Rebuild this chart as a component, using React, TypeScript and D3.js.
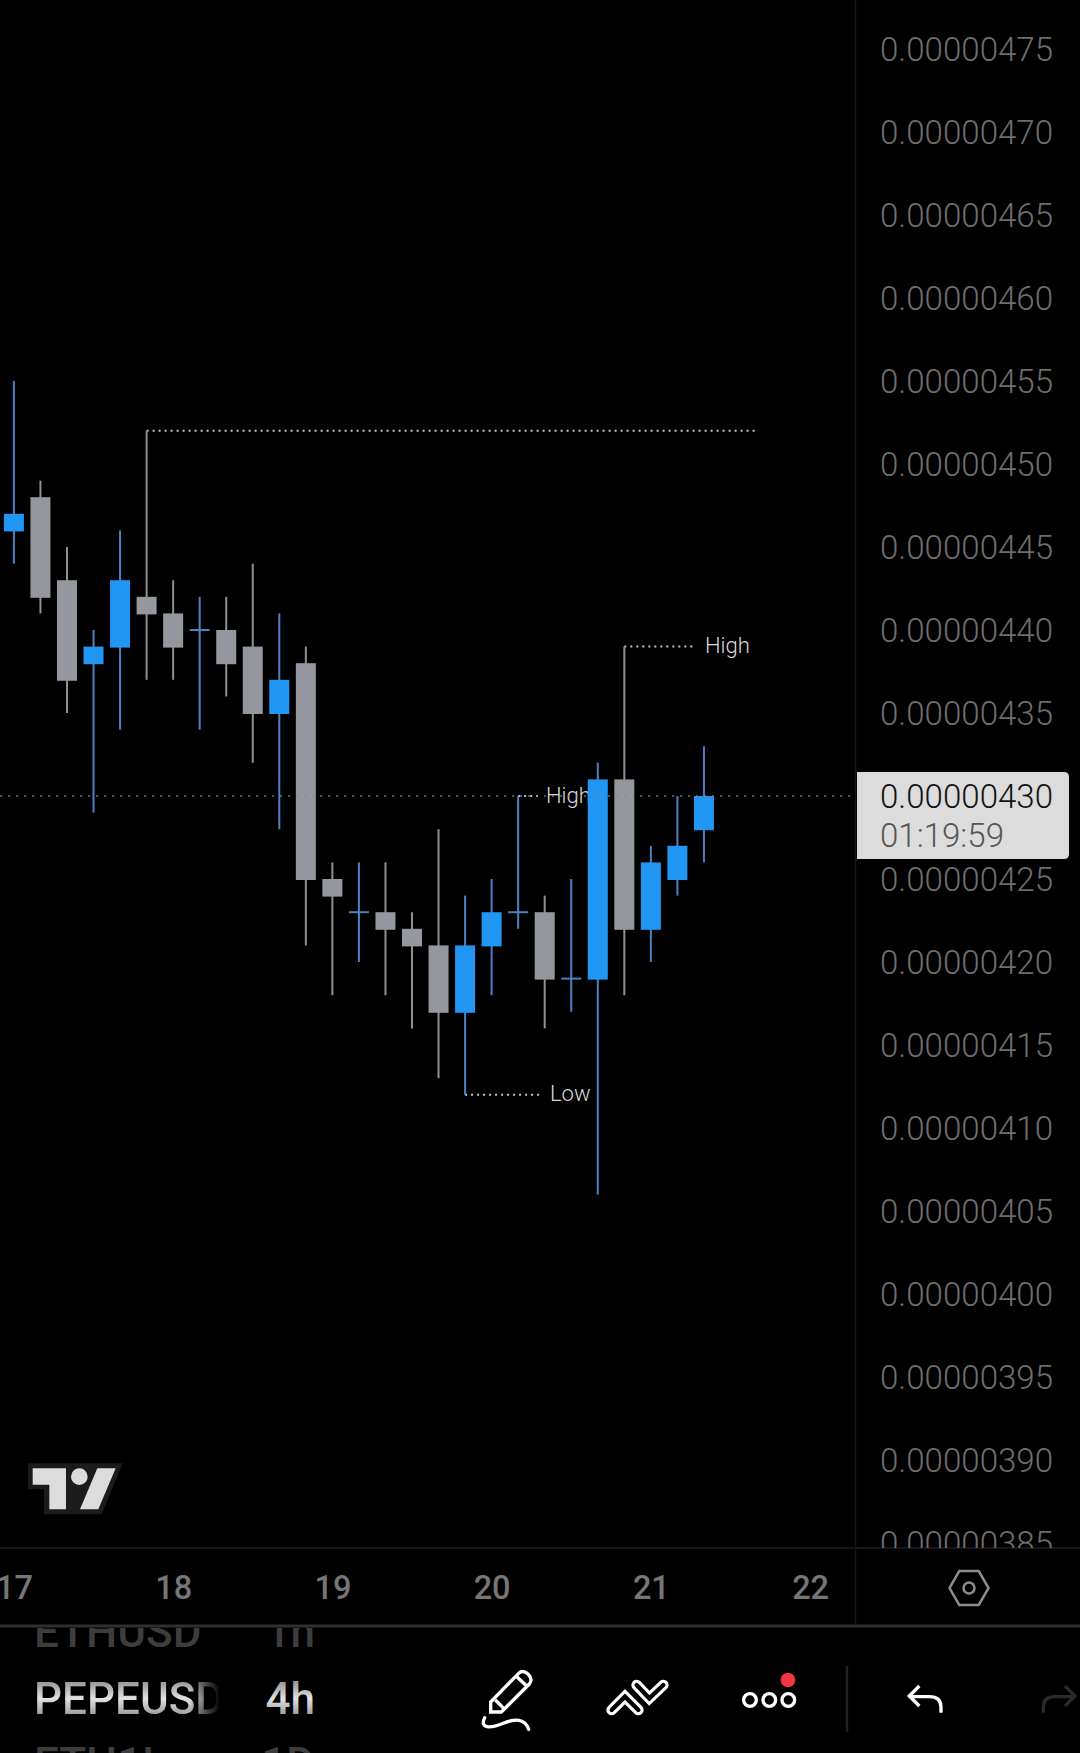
import { useRef, useEffect } from 'react';
import * as d3 from 'd3';

// prices are in units of 0.00000001
const opens = [446, 448, 443, 438, 439, 442, 441, 440, 440, 439, 435, 438, 425, 423, 423, 422, 421, 417, 421, 423, 423, 419, 419, 431, 422, 425, 428];
const highs = [455, 449, 445, 440, 446, 452, 443, 442, 442, 444, 441, 439, 426, 426, 426, 423, 428, 424, 425, 430, 424, 425, 432, 439, 427, 430, 433];
const lows = [444, 441, 435, 429, 434, 437, 437, 434, 436, 432, 428, 421, 418, 420, 418, 416, 413, 412, 418, 422, 416, 417, 406, 418, 420, 424, 426];
const closes = [447, 442, 437, 439, 443, 441, 439, 440, 438, 435, 437, 425, 424, 423, 422, 421, 417, 421, 423, 423, 419, 419, 431, 422, 426, 427, 430];
const upCandle = [true, false, false, true, true, false, false, true, false, false, true, false, false, true, false, false, false, true, true, true, false, true, true, false, true, true, true];

const priceTicks = [475, 470, 465, 460, 455, 450, 445, 440, 435, 425, 420, 415, 410, 405, 400, 395, 390, 385];
const dayTicks = [0, 6, 12, 18, 24, 30];
const dayLabels = ['17', '18', '19', '20', '21', '22'];

const lastPrice = 430;
const countdown = '01:19:59';

const pivotLabels = [
  { index: 19, price: 430, text: 'High', lineEnd: 538, textX: 546 },
  { index: 23, price: 439, text: 'High', lineEnd: 694, textX: 705 },
  { index: 17, price: 412, text: 'Low', lineEnd: 543, textX: 550 },
];
const pivotLong = { index: 5, price: 452, lineEnd: 755 };

const UP = '#2196f3';
const DOWN = '#95979f';
const UP_WICK = '#4d80c4';
const DOWN_WICK = '#8e9096';
const FONT = 'Roboto, sans-serif';

export default function App() {
  const svgRef = useRef<SVGSVGElement>(null);

  useEffect(() => {
    if (!svgRef.current) return;
    const svg = d3.select(svgRef.current);
    svg.selectAll('*').remove();

    const width = 1080;
    const height = 1753;
    const paneRight = 856;
    const paneBottom = 1548;
    const axisBottom = 1626;

    const xScale = d3.scaleLinear().domain([0, 30]).range([13.9, 810.1]);
    const yScale = d3.scaleLinear().domain([385, 475]).range([1543, 49]);

    svg.attr('viewBox', `0 0 ${width} ${height}`).attr('width', width).attr('height', height);

    const defs = svg.append('defs');
    defs.append('clipPath').attr('id', 'price-clip').append('rect')
      .attr('x', paneRight).attr('y', 0).attr('width', width - paneRight).attr('height', paneBottom);
    defs.append('clipPath').attr('id', 'list-clip').append('rect')
      .attr('x', 0).attr('y', axisBottom + 2).attr('width', 219).attr('height', height - axisBottom);
    defs.append('clipPath').attr('id', 'list-clip-2').append('rect')
      .attr('x', 219).attr('y', axisBottom + 2).attr('width', 120).attr('height', height - axisBottom);

    const wheel = defs.append('linearGradient').attr('id', 'wheel')
      .attr('gradientUnits', 'userSpaceOnUse').attr('x1', 0).attr('x2', 0).attr('y1', 1683).attr('y2', 1714);
    wheel.append('stop').attr('offset', 0).attr('stop-color', '#9c9c9c');
    wheel.append('stop').attr('offset', 0.5).attr('stop-color', '#e2e2e2');
    wheel.append('stop').attr('offset', 1).attr('stop-color', '#a0a0a0');

    const fade = defs.append('linearGradient').attr('id', 'fade')
      .attr('gradientUnits', 'userSpaceOnUse').attr('x1', 190).attr('x2', 220).attr('y1', 0).attr('y2', 0);
    fade.append('stop').attr('offset', 0).attr('stop-color', '#fff');
    fade.append('stop').attr('offset', 1).attr('stop-color', '#000');
    defs.append('mask').attr('id', 'fade-mask').attr('maskUnits', 'userSpaceOnUse')
      .attr('x', 0).attr('y', 1620).attr('width', 340).attr('height', 133)
      .append('rect').attr('x', 0).attr('y', 1620).attr('width', 340).attr('height', 133).attr('fill', 'url(#fade)');

    svg.append('rect').attr('width', width).attr('height', height).attr('fill', '#000');

    // Pivot labels sit under the candles
    const pivots = svg.append('g');
    pivotLabels.forEach((p) => {
      pivots.append('line')
        .attr('x1', xScale(p.index)).attr('x2', p.lineEnd)
        .attr('y1', yScale(p.price)).attr('y2', yScale(p.price))
        .attr('stroke', '#c4c4c4').attr('stroke-width', 2).attr('stroke-dasharray', '2 4');
      pivots.append('text')
        .attr('x', p.textX).attr('y', yScale(p.price) + 6.5)
        .attr('fill', '#dadada').style('font', `300 22px ${FONT}`)
        .text(p.text);
    });
    pivots.append('line')
      .attr('x1', xScale(pivotLong.index)).attr('x2', pivotLong.lineEnd)
      .attr('y1', yScale(pivotLong.price)).attr('y2', yScale(pivotLong.price))
      .attr('stroke', '#c4c4c4').attr('stroke-width', 2).attr('stroke-dasharray', '2 4');

    // Candles
    const bodyW = 20;
    const candles = svg.append('g').selectAll('g').data(d3.range(opens.length)).join('g');
    candles.append('line')
      .attr('x1', (i) => xScale(i)).attr('x2', (i) => xScale(i))
      .attr('y1', (i) => yScale(highs[i])).attr('y2', (i) => yScale(lows[i]))
      .attr('stroke', (i) => (upCandle[i] ? UP_WICK : DOWN_WICK)).attr('stroke-width', 2);
    candles.filter((i) => opens[i] !== closes[i]).append('rect')
      .attr('x', (i) => xScale(i) - bodyW / 2)
      .attr('y', (i) => yScale(Math.max(opens[i], closes[i])))
      .attr('width', bodyW)
      .attr('height', (i) => yScale(Math.min(opens[i], closes[i])) - yScale(Math.max(opens[i], closes[i])) + 1)
      .attr('fill', (i) => (upCandle[i] ? UP : DOWN));
    candles.filter((i) => opens[i] === closes[i]).append('line')
      .attr('x1', (i) => xScale(i) - bodyW / 2).attr('x2', (i) => xScale(i) + bodyW / 2)
      .attr('y1', (i) => yScale(opens[i])).attr('y2', (i) => yScale(opens[i]))
      .attr('stroke', UP_WICK).attr('stroke-width', 2);

    // Last price line
    svg.append('line')
      .attr('x1', 0).attr('x2', paneRight)
      .attr('y1', yScale(lastPrice)).attr('y2', yScale(lastPrice))
      .attr('stroke', '#8a8a8a').attr('stroke-opacity', 0.8).attr('stroke-width', 1.5).attr('stroke-dasharray', '2 6');

    // Frame lines
    svg.append('line').attr('x1', paneRight - 0.5).attr('x2', paneRight - 0.5).attr('y1', 0).attr('y2', axisBottom)
      .attr('stroke', '#141417').attr('stroke-width', 1.5);
    svg.append('line').attr('x1', 0).attr('x2', width).attr('y1', paneBottom).attr('y2', paneBottom)
      .attr('stroke', '#16161a').attr('stroke-width', 2);
    svg.append('line').attr('x1', 0).attr('x2', width).attr('y1', axisBottom).attr('y2', axisBottom)
      .attr('stroke', '#303030').attr('stroke-width', 3);

    // Price axis
    svg.append('g')
      .attr('clip-path', 'url(#price-clip)')
      .append('g')
      .attr('transform', 'translate(880,0)')
      .call(d3.axisRight(yScale).tickValues(priceTicks).tickSize(0).tickPadding(0)
        .tickFormat((d) => ((d as number) / 1e8).toFixed(8)))
      .call((g) => {
        g.select('.domain').remove();
        g.selectAll('text').attr('fill', '#6e6e6e').attr('dy', '11.4').style('font', `300 33.1px ${FONT}`);
      });

    // Last price badge
    const badgeTop = 772;
    const badgeBottom = 859;
    const badgeRight = 1069;
    svg.append('path')
      .attr('d', `M${paneRight + 1},${badgeTop}H${badgeRight - 5}Q${badgeRight},${badgeTop} ${badgeRight},${badgeTop + 5}V${badgeBottom - 5}Q${badgeRight},${badgeBottom} ${badgeRight - 5},${badgeBottom}H${paneRight + 1}Z`)
      .attr('fill', '#dcdcdc');
    svg.append('text').attr('x', 880).attr('y', yScale(lastPrice) + 11.6)
      .attr('fill', '#131313').style('font', `300 33.1px ${FONT}`)
      .text((lastPrice / 1e8).toFixed(8));
    svg.append('text').attr('x', 880).attr('y', 847)
      .attr('fill', '#555').style('font', `300 33.1px ${FONT}`)
      .text(countdown);

    // Time axis
    svg.append('g')
      .attr('transform', 'translate(0,1587)')
      .call(d3.axisBottom(xScale).tickValues(dayTicks).tickSize(0).tickPadding(0)
        .tickFormat((_, i) => dayLabels[i]))
      .call((g) => {
        g.select('.domain').remove();
        g.selectAll('text').attr('fill', '#767676').attr('dy', '11.5').style('font', `500 32.5px ${FONT}`);
      });

    // Axis settings hexagon
    const hex = d3.line<[number, number]>().curve(d3.curveLinearClosed);
    const hexPts = d3.range(6).map((i): [number, number] => [
      969 + 19.5 * Math.cos((i * Math.PI) / 3),
      1588 + 19.5 * Math.sin((i * Math.PI) / 3),
    ]);
    svg.append('path').attr('d', hex(hexPts)).attr('fill', 'none').attr('stroke', '#8c8c8c').attr('stroke-width', 2.5);
    svg.append('circle').attr('cx', 969).attr('cy', 1588).attr('r', 5.5).attr('fill', 'none').attr('stroke', '#8c8c8c').attr('stroke-width', 2.5);

    // TradingView mark
    const logo = svg.append('g').attr('transform', 'translate(20,1450) scale(0.3333)');
    logo.append('path').attr('d', 'M24,40H308L245,193H72V118H24Z').attr('fill', '#1b1b1b');
    logo.append('path').attr('d', 'M38,55H138V178H88V104H38Z').attr('fill', '#dcdcdc');
    logo.append('circle').attr('cx', 178).attr('cy', 80).attr('r', 25).attr('fill', '#dcdcdc');
    logo.append('path').attr('d', 'M232,55H287L235,178H180Z').attr('fill', '#dcdcdc');

    // Symbol and interval wheel
    const listFont = `500 44px ${FONT}`;
    const listLeft = svg.append('g').attr('clip-path', 'url(#list-clip)');
    const listRight = svg.append('g').attr('clip-path', 'url(#list-clip-2)');
    const rows = [
      { symbol: 'ETHUSD', interval: '1h', y: 1647, color: '#3d3d3d' },
      { symbol: 'PEPEUSD', interval: '4h', y: 1714, color: 'url(#wheel)' },
      { symbol: 'ETH1!', interval: '1D', y: 1779, color: '#3d3d3d' },
    ];
    rows.forEach((r) => {
      listLeft.append('text').attr('x', 34).attr('y', r.y).attr('fill', r.color)
        .attr('mask', r.y === 1714 ? 'url(#fade-mask)' : null).style('font', listFont).text(r.symbol);
      listRight.append('text').attr('x', 315).attr('y', r.y).attr('text-anchor', 'end').attr('fill', r.color)
        .style('font', listFont).text(r.interval);
    });

    // Toolbar icons
    const tools = svg.append('g').attr('transform', 'translate(460,1650) scale(0.3333)')
      .attr('fill', 'none').attr('stroke', '#fff').attr('stroke-width', 10);
    tools.append('path').attr('d', 'M92,156L176,70Q188,58 204,72Q220,88 208,102L124,186H92Z M106,150L132,176 M168,78L204,112');
    tools.append('path').attr('d', 'M74,203C58,236 92,236 130,220C165,205 195,205 206,238').attr('stroke-linecap', 'round');
    [['M455,180L495,140L535,180'], ['M530,105L568,145L610,105']].forEach(([d]) => {
      tools.append('path').attr('d', d).attr('stroke-width', 32).attr('stroke-linecap', 'round').attr('stroke-linejoin', 'miter');
    });
    [['M455,180L495,140L535,180'], ['M530,105L568,145L610,105']].forEach(([d]) => {
      tools.append('path').attr('d', d).attr('stroke', '#000').attr('stroke-width', 13).attr('stroke-linecap', 'round').attr('stroke-linejoin', 'miter');
    });
    [870, 928, 985].forEach((cx) => {
      tools.append('circle').attr('cx', cx).attr('cy', 150).attr('r', 19);
    });
    tools.append('circle').attr('cx', 984).attr('cy', 90).attr('r', 24).attr('fill', '#f23645').attr('stroke', '#000').attr('stroke-width', 4);

    svg.append('line').attr('x1', 847).attr('x2', 847).attr('y1', 1666).attr('y2', 1732).attr('stroke', '#222').attr('stroke-width', 2.5);

    const undo = svg.append('g').attr('transform', 'translate(800,1650) scale(0.3333)')
      .attr('fill', 'none').attr('stroke-width', 10);
    undo.append('path').attr('d', 'M423,188V172Q423,140 388,140H332M358,108L328,138L358,168').attr('stroke', '#fff');
    undo.append('path').attr('d', 'M730,188V172Q730,140 765,140H820M795,108L825,138L795,168').attr('stroke', '#2a2a2a');
  }, []);

  return <svg ref={svgRef} style={{ position: 'absolute', left: 0, top: 0, display: 'block' }} />;
}
